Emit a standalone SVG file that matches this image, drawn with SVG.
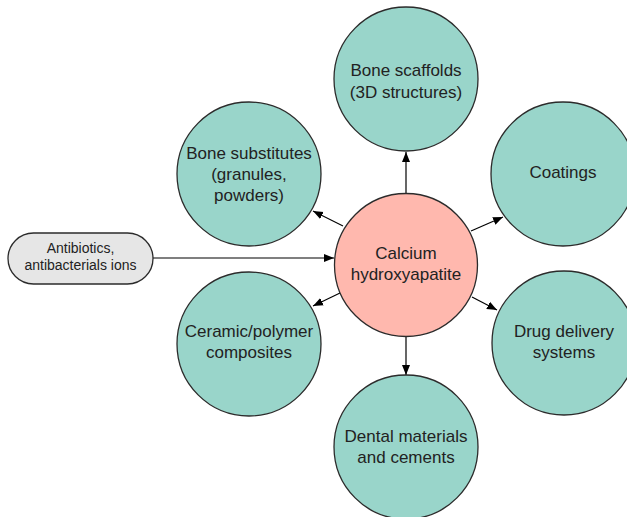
<svg xmlns="http://www.w3.org/2000/svg" width="627" height="517" viewBox="0 0 627 517">
<defs>
<marker id="ah" viewBox="0 0 10 10" refX="10" refY="5" markerWidth="10" markerHeight="10" markerUnits="userSpaceOnUse" orient="auto">
<path d="M0,1 L10,5 L0,9 Z" fill="#000"/>
</marker>
<style>
.t{fill:#99d5ca;stroke:#2b2b2b;stroke-width:1.3}
.c{fill:#ffb8ae;stroke:#2b2b2b;stroke-width:1.3}
.p{fill:#e6e6e6;stroke:#2b2b2b;stroke-width:1.3}
text{font-family:"Liberation Sans",Arial,sans-serif;font-size:17px;fill:#222;text-anchor:middle}
.s{font-size:14px}
.e{stroke:#000;stroke-width:1.2;fill:none;marker-end:url(#ah)}
</style>
</defs>
<rect width="627" height="517" fill="#fff"/>
<g id="connectors">
<line class="e" x1="153" y1="258" x2="334" y2="258"/>
<line class="e" x1="406" y1="193" x2="406" y2="152"/>
<line class="e" x1="406" y1="337" x2="406" y2="375"/>
<line class="e" x1="343" y1="226" x2="313" y2="211"/>
<line class="e" x1="340" y1="293" x2="313" y2="306"/>
<line class="e" x1="471" y1="231" x2="503" y2="217"/>
<line class="e" x1="472" y1="297" x2="497" y2="310"/>
</g>
<g id="antibiotics">
<rect class="p" x="8" y="233" width="145" height="51" rx="25.5"/>
<text class="s" x="80.5" y="253">Antibiotics,</text>
<text class="s" x="80.5" y="270">antibacterials ions</text>
</g>
<g id="hydroxyapatite">
<circle class="c" cx="406" cy="265" r="71.5"/>
<text x="406" y="259">Calcium</text>
<text x="406" y="280">hydroxyapatite</text>
</g>
<g id="scaffolds">
<circle class="t" cx="406" cy="79" r="72"/>
<text x="406" y="76">Bone scaffolds</text>
<text x="406" y="98">(3D structures)</text>
</g>
<g id="substitutes">
<circle class="t" cx="249" cy="174" r="72"/>
<text x="249" y="159">Bone substitutes</text>
<text x="249" y="180">(granules,</text>
<text x="249" y="201">powders)</text>
</g>
<g id="coatings">
<circle class="t" cx="563" cy="174" r="72"/>
<text x="563" y="178">Coatings</text>
</g>
<g id="composites">
<circle class="t" cx="249" cy="344" r="72"/>
<text x="249" y="337">Ceramic/polymer</text>
<text x="249" y="358">composites</text>
</g>
<g id="drug">
<circle class="t" cx="564" cy="343" r="72"/>
<text x="564" y="337">Drug delivery</text>
<text x="564" y="358">systems</text>
</g>
<g id="dental">
<circle class="t" cx="406" cy="447" r="72"/>
<text x="406" y="442">Dental materials</text>
<text x="406" y="463">and cements</text>
</g>
</svg>
